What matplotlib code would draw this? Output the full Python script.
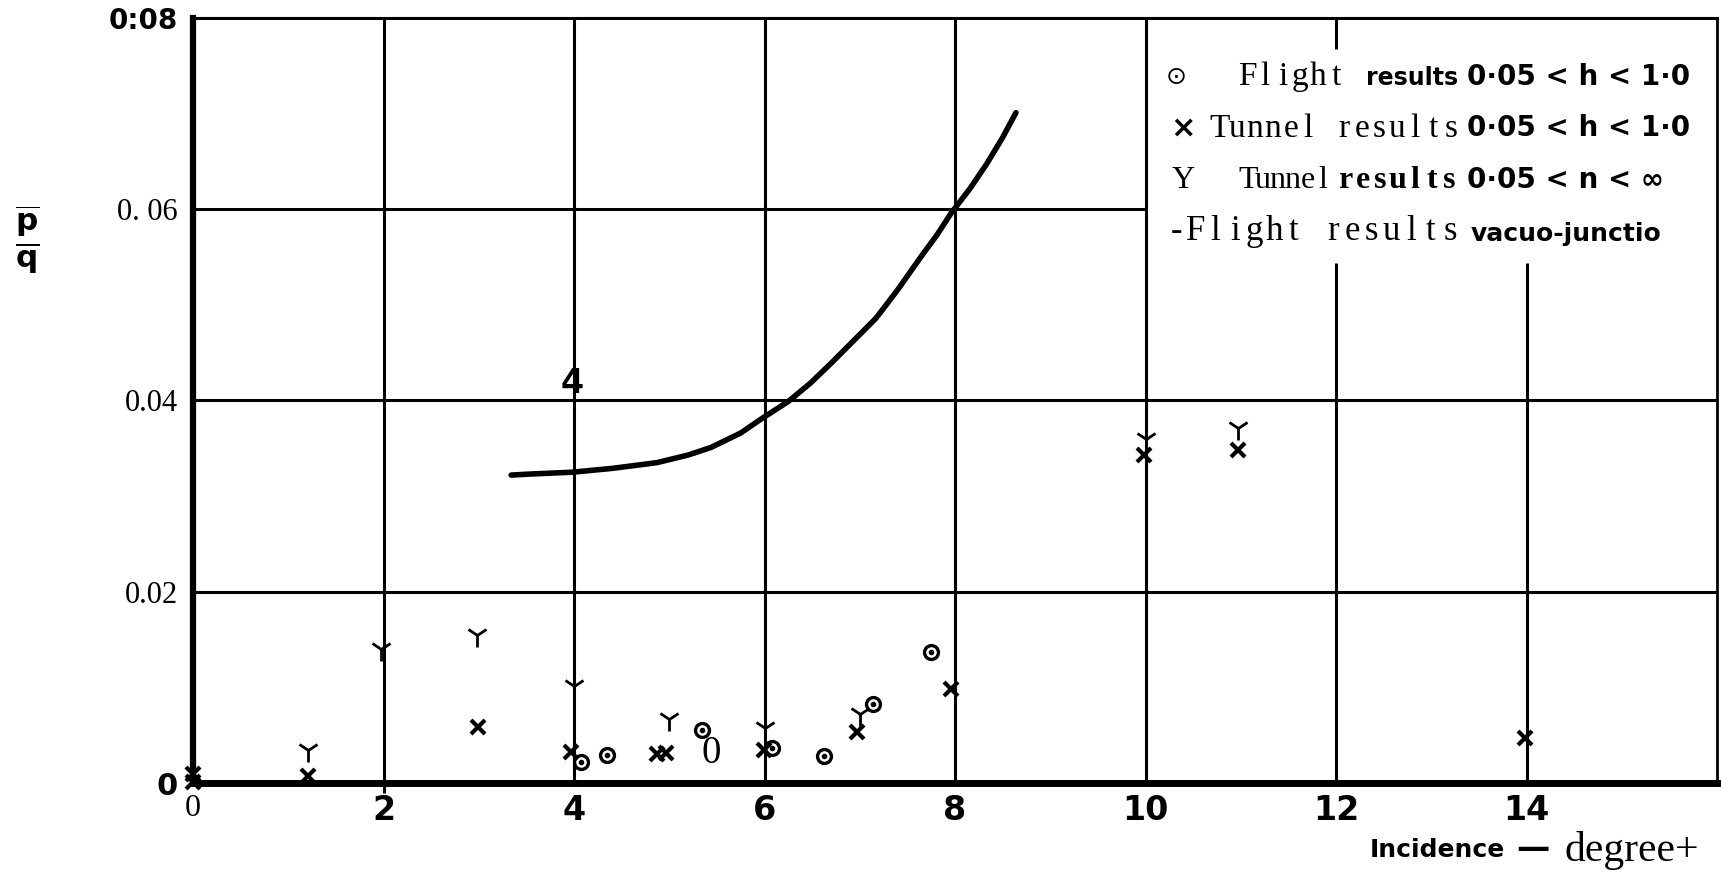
import matplotlib
matplotlib.use("Agg")
import matplotlib.pyplot as plt

# ---------------- data ----------------
curve_x = [3.34, 3.52, 3.98, 4.40, 4.87, 5.20, 5.44, 5.75, 5.97, 6.25, 6.48, 6.71,
           6.94, 7.17, 7.40, 7.64, 7.81, 7.96, 8.16, 8.33, 8.50, 8.64]
curve_y = [0.0322, 0.0323, 0.0325, 0.0329, 0.0335, 0.0343, 0.0351, 0.0366, 0.0381,
           0.0399, 0.0418, 0.0440, 0.0463, 0.0486, 0.0516, 0.0550, 0.0573, 0.0596,
           0.0622, 0.0647, 0.0675, 0.0701]

flight_x = [4.07, 4.35, 5.34, 6.08, 6.62, 7.14, 7.75]
flight_y = [0.0022, 0.0029, 0.0055, 0.0037, 0.0028, 0.0083, 0.0137]

tunnel_x = [0.0, 0.0, 1.21, 2.99, 3.97, 4.87, 4.97, 5.99, 6.97, 7.96, 9.98, 10.97, 13.98]
tunnel_y = [0.0001, 0.0009, 0.0007, 0.0059, 0.0032, 0.0030, 0.0031, 0.0035, 0.0053,
            0.0098, 0.0343, 0.0348, 0.0047]

tunnelY_x = [1.21, 1.97, 2.98, 4.00, 5.00, 6.00, 7.00, 10.00, 10.97]
tunnelY_y = [0.0035, 0.0140, 0.0155, 0.0101, 0.0067, 0.0058, 0.0072, 0.0360, 0.0371]

x_ticks = [0, 2, 4, 6, 8, 10, 12, 14]
x_tick_labels = ["0", "2", "4", "6", "8", "10", "12", "14"]
y_ticks = [0, 0.02, 0.04, 0.06, 0.08]
y_tick_labels = ["0", "0.02", "0.04", "0. 06", "0:08"]

# grid segments: (x0, x1, y0, y1)
h_grid = [(0, 16, 0.02, 0.02), (0, 16, 0.04, 0.04), (0, 10.0, 0.06, 0.06)]
v_grid = [(2, 2, -0.001, 0.08), (4, 4, 0, 0.08), (6, 6, 0, 0.08), (8, 8, 0, 0.08),
          (10, 10, 0, 0.08), (12, 12, 0, 0.0544), (12, 12, 0.0768, 0.08),
          (14, 14, 0, 0.0544)]

# ---------------- figure ----------------
W, H = 1721, 872
S = 1721 / 1568  # shrunk-reference -> full pixel factor
fig = plt.figure(figsize=(W / 100, H / 100), dpi=100)
ax = fig.add_axes([193 / W, 1 - 783 / H, (1717 - 193) / W, (783 - 18) / H])
ax.set_xlim(0, 16)
ax.set_ylim(0, 0.08)

for x0, x1, y0, y1 in h_grid:
    ax.plot([x0, x1], [y0, y1], color="black", lw=2.2, solid_capstyle="butt", zorder=1)
for x0, x1, y0, y1 in v_grid:
    ax.plot([x0, x1], [y0, y1], color="black", lw=2.2, solid_capstyle="butt",
            zorder=1, clip_on=False)

# curve
ax.plot(curve_x, curve_y, color="black", lw=4, solid_capstyle="round", zorder=3)

# flight circles with dot
ax.plot(flight_x, flight_y, linestyle="none", marker="o", ms=10, mfc="white",
        mec="black", mew=2.4, zorder=4, clip_on=False)
ax.plot(flight_x, flight_y, linestyle="none", marker="o", ms=3, color="black", zorder=5)

# tunnel crosses
ax.plot(tunnel_x, tunnel_y, linestyle="none", marker="x", ms=10, mew=3,
        color="black", zorder=4, clip_on=False)

# tunnel Y marks
ax.plot(tunnelY_x, tunnelY_y, linestyle="none", marker="1", ms=17, mew=2,
        color="black", zorder=4, clip_on=False)

# odd annotations
ax.text(3.98, 0.0400, "4", fontsize=24, fontweight="bold", ha="center", va="bottom",
        family="DejaVu Sans")
ax.text(5.44, 0.0031, "0", fontsize=28, ha="center", va="center", family="Liberation Serif")

# spines
for side, lw in (("left", 4.5), ("bottom", 5), ("top", 2.2), ("right", 2)):
    ax.spines[side].set_linewidth(lw)

ax.set_xticks(x_ticks)
ax.set_xticklabels(x_tick_labels)
ax.set_yticks(y_ticks)
ax.set_yticklabels(y_tick_labels)
ax.tick_params(axis="both", length=0)
ax.tick_params(axis="x", pad=8)
ax.tick_params(axis="y", pad=11)

for i, lab in enumerate(ax.get_xticklabels()):
    if i == 0:
        lab.set_family("Liberation Serif")
        lab.set_fontsize(23)
    else:
        lab.set_family("DejaVu Sans")
        lab.set_fontweight("bold")
        lab.set_fontsize(24)
for i, lab in enumerate(ax.get_yticklabels()):
    if i in (0, 4):
        lab.set_family("DejaVu Sans")
        lab.set_fontweight("bold")
        lab.set_fontsize(20 if i == 4 else 22)
    else:
        lab.set_family("Liberation Serif")
        lab.set_fontsize(22)

# y label
fig.text(27 / W, 1 - 240 / H, r"$\frac{\overline{\mathbf{p}}}{\mathbf{q}}$", fontsize=32,
         ha="center", va="center")

# x label
fig.text(1248 * S / W, 1 - 850 / H, "Incidence", fontsize=18, fontweight="bold",
         family="DejaVu Sans", ha="left", va="center")
fig.text(1397 * S / W, 1 - 848 / H, "\u2014", fontsize=24, fontweight="bold",
         family="DejaVu Sans", ha="center", va="center")
fig.text(1548 * S / W, 1 - 850 / H, "degree+", fontsize=30, family="Liberation Serif",
         ha="right", va="center")


# legend (manual, typewriter-like fixed pitch for the serif parts)
def ft(xs, ys, s, bold=False, serif=True, size=20, ha="left", **kw):
    fam = "Liberation Serif" if serif else "DejaVu Sans"
    fig.text(xs * S / W, 1 - ys * S / H, s, fontsize=size,
             fontweight="bold" if bold else "normal", family=fam, ha=ha,
             va="center", **kw)


def mono(xs, ys, s, pitch, size=20, bold=False):
    for i, ch in enumerate(s):
        if ch == " ":
            continue
        ft(xs + (i + 0.5) * pitch, ys, ch, bold=bold, size=size, ha="center")


ft(1072, 70, "\u2299", serif=False, size=18, ha="center")
mono(1128, 70, "Flight", 16.2, size=24)
ft(1245, 71, "results", bold=True, serif=False, size=17)
ft(1337, 70, "0\u00b705 < h < 1\u00b70", bold=True, serif=False, size=20)

ft(1078, 117, "\u00d7", serif=False, bold=True, size=22, ha="center")
mono(1103, 117, "Tunnel results", 16.2, size=24)
ft(1337, 117, "0\u00b705 < h < 1\u00b70", bold=True, serif=False, size=20)

ft(1078, 164, "Y", size=23, ha="center")
mono(1130, 164, "Tunnel", 13.6, size=23)
mono(1218, 164, "results", 15.8, size=23, bold=True)
ft(1337, 164, "0\u00b705 < n < \u221e", bold=True, serif=False, size=20)

mono(1063, 211, "-Flight results", 17.8, size=25)
ft(1340, 213, "vacuo-junctio", bold=True, serif=False, size=18)

fig.savefig("out.png", dpi=100, facecolor="white")
